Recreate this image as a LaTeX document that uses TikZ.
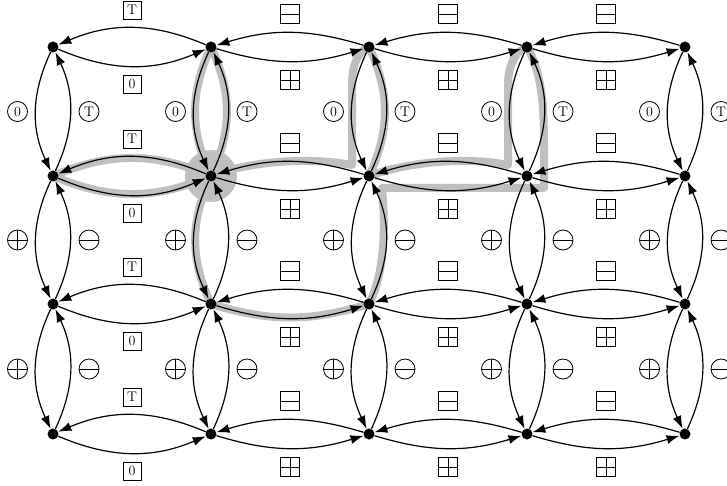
\documentclass[tikz,border=0pt]{standalone}
\usetikzlibrary{arrows.meta,backgrounds}
\begin{document}
\tikzset{
  dot/.style={circle, fill=black, inner sep=0pt, minimum size=11pt},
  arr/.style={line width=1.2pt, -{Latex[length=13pt,width=9pt]}},
  hl/.style={line width=8pt, draw=black!25, line join=round, line cap=round},
  lbl/.style={draw, line width=0.8pt, inner sep=0pt, font=\fontsize{14}{17}\selectfont},
  sqlbl/.style={lbl, rectangle, minimum size=18pt},
  crlbl/.style={lbl, circle, minimum size=20pt},
  hbar/.style={path picture={\draw[line width=0.8pt] (path picture bounding box.west) -- (path picture bounding box.east);}},
  hvbar/.style={path picture={\draw[line width=0.8pt] (path picture bounding box.west) -- (path picture bounding box.east)
      (path picture bounding box.north) -- (path picture bounding box.south);}},
  sqminus/.style={lbl, rectangle, minimum size=19pt, hbar},
  sqplus/.style={lbl, rectangle, minimum size=19pt, hvbar},
  crminus/.style={lbl, circle, minimum size=20pt, hbar},
  crplus/.style={lbl, circle, minimum size=20pt, hvbar}
}
\begin{tikzpicture}[x=1pt,y=1pt]
\useasboundingbox (0,0) rectangle (727,-486);
% nodes
\foreach \c/\x in {0/53,1/211,2/369,3/527,4/685}
  \foreach \r/\y in {0/47,1/176,2/304,3/434}
    \node[dot] (n\c\r) at (\x,-\y) {};
% highlight
\begin{scope}[on background layer]
  \fill[black!25] (n11.center) circle (26pt);
  \draw[hl] (n01.center) to[bend left=23] (n11.center) to[bend left=23] (n01.center);
  \draw[hl] (n10.center) to[bend left=25] (n11.center) to[bend left=25] (n10.center);
  \draw[hl] (n11.center) .. controls (250,-161) and (310,-157) .. (352,-165)
     -- (352,-85) .. controls (352,-62) and (360,-50) .. (n20.center)
     to[bend left=25] (n21.center)
     .. controls (410,-161) and (470,-157) .. (508,-165)
     -- (508,-85) .. controls (508,-62) and (518,-50) .. (n30.center)
     .. controls (543,-75) and (544,-110) .. (544,-150)
     -- (544,-188) -- (382,-188)
     .. controls (386,-230) and (384,-275) .. (n22.center)
     to[bend left=17] (n12.center)
     to[bend left=25] (n11.center);
\end{scope}
% horizontal arcs
\foreach \c/\d/\b in {0/1/23,1/2/17,2/3/17,3/4/17}
  \foreach \r in {0,...,3} {
    \draw[arr] (n\d\r) to[bend right=\b] (n\c\r);
    \draw[arr] (n\c\r) to[bend right=\b] (n\d\r);
  }
% vertical arcs
\foreach \c in {0,...,4}
  \foreach \r/\s in {0/1,1/2,2/3} {
    \draw[arr] (n\c\r) to[bend right=25] (n\c\s);
    \draw[arr] (n\c\s) to[bend right=25] (n\c\r);
  }
% horizontal labels
\foreach \r/\y in {0/47,1/176,2/304,3/434} {
  \node[sqlbl] (ta\r) at (132,-\y+37) {T};
  \node[sqlbl] (zb\r) at (132,-\y-37) {0};
  \foreach \c/\x in {1/290,2/448,3/606} {
    \node[sqminus] (ma\c\r) at (\x,-\y+33) {};
    \node[sqplus] (pb\c\r) at (\x,-\y-33) {};
  }
}
% vertical labels
\foreach \c/\x in {0/53,1/211,2/369,3/527,4/685} {
  \node[crlbl] (cz\c) at (\x-35.5,-111.5) {0};
  \node[crlbl] (ct\c) at (\x+36,-111.5) {T};
  \foreach \r/\y in {1/240,2/369} {
    \node[crplus] (op\c\r) at (\x-35.5,-\y) {};
    \node[crminus] (om\c\r) at (\x+36,-\y) {};
  }
}
\end{tikzpicture}
\end{document}
